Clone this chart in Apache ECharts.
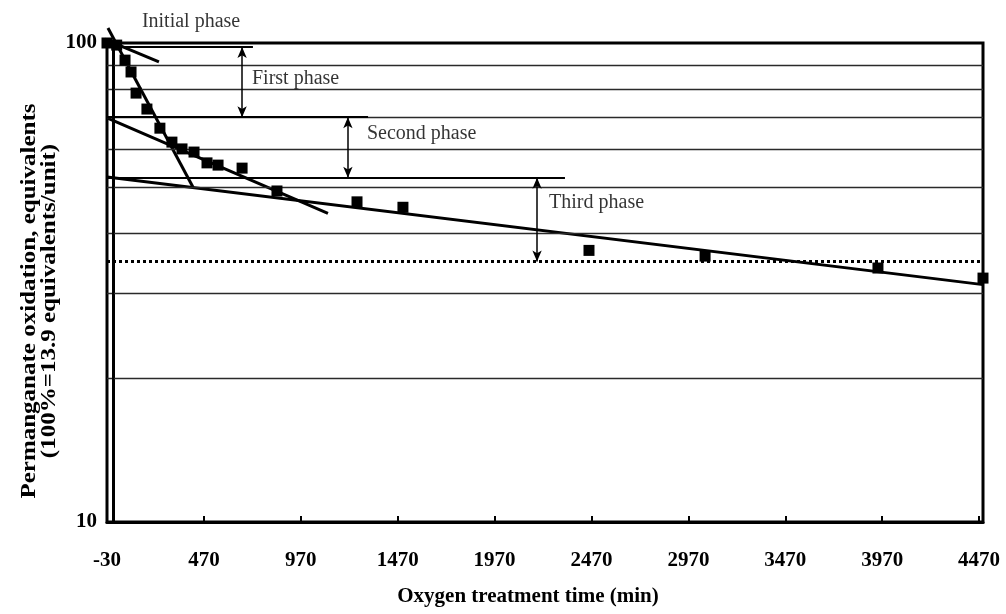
<!DOCTYPE html>
<html>
<head>
<meta charset="utf-8">
<script src="https://cdn.jsdelivr.net/npm/echarts@6/dist/echarts.min.js"></script>
<style>html,body{margin:0;padding:0;background:#fff}#c{width:1006px;height:614px}</style>
</head>
<body>
<div id="c"></div>
<script>
// ---- data ----
const times  = [-30, 20, 63, 94, 120, 176, 243, 305, 357, 419, 486, 543, 667, 847, 1260, 1497, 2457, 3056, 3948, 4490];
const values = [100, 99.0, 92.1, 87.0, 78.6, 72.8, 66.4, 62.1, 60.1, 59.2, 56.2, 55.6, 54.8, 49.1, 46.6, 45.4, 36.9, 35.9, 33.9, 32.3];

const initialFit = [[-92, 103.9], [238, 91.3]];
const firstFit   = [[-25, 107.5], [414, 50.0]];
const secondFit  = [[-30, 69.8], [1110, 44.1]];
const thirdFit   = [[-30, 52.5], [4490, 31.3]];

const gridValues = [90, 80, 70, 60, 50, 40, 30, 20];
const phaseLevels = [98.1, 70, 52.3, 35];        // phase boundary levels (%)
const phaseLineEnds = [723, 1317, 2333];         // end time of solid boundary lines
const arrowTimes = [667, 1213, 2189];            // where the double arrows sit
const phaseNames = ['Initial phase', 'First phase', 'Second phase', 'Third phase'];
const phaseLabelAt = [[150, 110.6], [718, 84.1], [1311, 64.6], [2251, 46.3]];

const xMin = -30, xMax = 4490, xStep = 500;
const yMin = 10, yMax = 100;

const FONT = "'Liberation Serif', 'Times New Roman', serif";

// ---- build ----
const pts = times.map((t, i) => [t, values[i]]);
const fitSeries = [initialFit, firstFit, secondFit, thirdFit].map(d => ({
  type: 'line', data: d, symbol: 'none', clip: false, silent: true,
  lineStyle: { color: '#000', width: 3 }, z: 4
}));

const boundaryLines = phaseLevels.slice(0, 3).map((v, i) => [
  { coord: [xMin, v] }, { coord: [phaseLineEnds[i], v] }
]);
const arrows = arrowTimes.map((t, i) => [
  { coord: [t, phaseLevels[i]] }, { coord: [t, phaseLevels[i + 1]] }
]);

const chart = echarts.init(document.getElementById('c'), null, { renderer: 'canvas' });
chart.setOption({
  animation: false,
  backgroundColor: '#fff',
  grid: { left: 107, right: 23, top: 43, bottom: 92, show: true, borderColor: '#000', borderWidth: 3, containLabel: false },
  xAxis: {
    type: 'value', min: xMin, max: xMax, interval: xStep,
    axisLine: { lineStyle: { color: '#000', width: 3 } },
    axisTick: { inside: true, length: 6, lineStyle: { color: '#000', width: 2 } },
    axisLabel: {
      margin: 28, color: '#000', fontFamily: FONT, fontWeight: 'bold', fontSize: 21,
      formatter: v => (((v - xMin) % xStep) === 0 ? String(v) : '')
    },
    splitLine: { show: false }
  },
  yAxis: {
    type: 'log', logBase: 10, min: yMin, max: yMax,
    axisLine: { lineStyle: { color: '#000', width: 3 } },
    axisTick: { show: false },
    axisLabel: { margin: 10, color: '#000', fontFamily: FONT, fontWeight: 'bold', fontSize: 21 },
    splitLine: { show: false }
  },
  graphic: [
    {
      type: 'text', x: 40, y: 301, rotation: Math.PI / 2, scaleX: 1.25,
      style: {
        text: 'Permanganate oxidation, equivalents\n(100%=13.9 equivalents/unit)',
        fontFamily: FONT, fontWeight: 'bold', fontSize: 20, lineHeight: 20,
        fill: '#000', align: 'center', verticalAlign: 'middle'
      }
    },
    {
      type: 'text', x: 528, y: 597,
      style: {
        text: 'Oxygen treatment time (min)',
        fontFamily: FONT, fontWeight: 'bold', fontSize: 21,
        fill: '#000', align: 'center', verticalAlign: 'middle'
      }
    }
  ],
  series: [
    {
      type: 'line', data: [], silent: true,
      markLine: {
        silent: true, symbol: 'none', animation: false,
        label: { show: false },
        lineStyle: { color: '#2a2a2a', width: 1.3, type: 'solid' },
        data: gridValues.map(v => ({ yAxis: v }))
      }
    },
    {
      type: 'line', data: [], silent: true,
      markLine: {
        silent: true, symbol: 'none', animation: false,
        label: { show: false },
        lineStyle: { color: '#000', width: 2, type: 'solid' },
        data: boundaryLines.concat([[{ coord: [0, yMin] }, { coord: [0, yMax] }]])
      }
    },
    {
      type: 'line', data: [], silent: true,
      markLine: {
        silent: true, symbol: 'none', animation: false,
        label: { show: false },
        lineStyle: { color: '#000', width: 3, type: [3, 3] },
        data: [{ yAxis: phaseLevels[3] }]
      }
    },
    {
      type: 'line', data: [], silent: true,
      markLine: {
        silent: true, symbol: ['arrow', 'arrow'], symbolSize: [7, 11], animation: false,
        label: { show: false },
        lineStyle: { color: '#000', width: 1.5, type: 'solid' },
        data: arrows
      }
    },
    ...fitSeries,
    {
      type: 'scatter', data: pts, symbol: 'rect', symbolSize: 11, clip: false, z: 5,
      itemStyle: { color: '#000', opacity: 1 }
    },
    {
      type: 'scatter', clip: false, silent: true, symbolSize: 0,
      data: phaseLabelAt.map((p, i) => ({ value: p, name: phaseNames[i] })),
      label: {
        show: true, position: 'right', distance: 0, formatter: p => p.name,
        fontFamily: FONT, fontSize: 20, color: '#000', align: 'left', verticalAlign: 'middle'
      }
    }
  ]
});
</script>
</body>
</html>
